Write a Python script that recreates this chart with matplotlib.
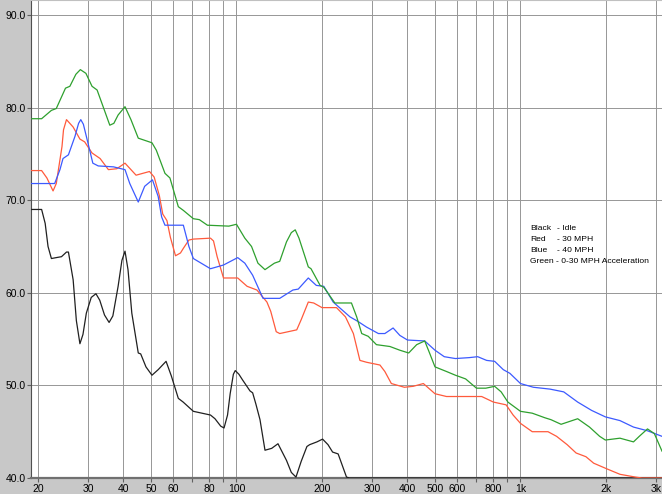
import matplotlib
matplotlib.use("Agg")
import matplotlib.pyplot as plt
from matplotlib.ticker import FixedLocator, FixedFormatter, NullLocator

# --- data (Hz, dB) ---
idle_f = [18.9, 20.6, 21.2, 21.7, 22.3, 23.2, 24.2, 25.2, 25.6, 26.6, 27.3, 28.1, 28.8,
          29.6, 30.8, 32.0, 33.0, 34.3, 35.6, 36.7, 38.3, 39.5, 40.5, 41.5, 42.8, 45.1,
          46.0, 48.0, 50.4, 53.0, 56.5, 59.0, 62.4, 64.9, 70.5, 81.0, 84.0, 88.0, 90.4,
          93.0, 95.0, 97.5, 99.0, 102.0, 105.0, 111.6, 114.0, 117.0, 121.0, 126.0, 133.0,
          140.0, 150.0, 156.0, 162.0, 169.0, 177.0, 181.0, 192.0, 201.0, 210.0, 218.0,
          228.0, 244.0, 250.0, 3150.0]
idle_db = [69.0, 69.0, 67.5, 65.0, 63.7, 63.8, 63.9, 64.4, 64.4, 61.4, 57.0, 54.5, 55.5,
           57.8, 59.5, 59.9, 59.2, 57.6, 56.8, 57.5, 60.7, 63.5, 64.5, 62.5, 57.8, 53.5,
           53.4, 52.0, 51.1, 51.7, 52.6, 51.0, 48.6, 48.2, 47.2, 46.8, 46.4, 45.6, 45.4,
           46.8, 49.1, 51.2, 51.6, 51.2, 50.6, 49.4, 49.2, 48.0, 46.3, 43.0, 43.2,
           43.7, 41.9, 40.6, 40.1, 41.8, 43.4, 43.6, 43.9, 44.2, 43.6, 42.8,
           42.6, 40.1, 40.0, 40.0]

mph30_f = [18.9, 20.6, 21.5, 22.6, 23.2, 24.3, 24.6, 25.2, 26.6, 28.1, 29.2, 31.0,
           33.1, 35.4, 37.9, 40.5, 44.3, 49.4, 51.3, 53.5, 55.0, 56.9, 58.5, 61.0,
           63.5, 65.0, 68.0, 70.5, 81.0, 83.0, 85.5, 90.0, 101.0, 109.0, 118.0, 128.0,
           132.0, 138.0, 142.0, 163.0, 169.0, 179.0, 187.0, 200.0, 225.0, 242.0, 258.0,
           272.0, 287.0, 320.0, 333.0, 351.0, 390.0, 419.0, 455.0, 500.0, 549.0, 730.0,
           803.0, 890.0, 942.0, 1000.0, 1100.0, 1250.0, 1340.0, 1460.0, 1570.0, 1700.0,
           1810.0, 2010.0, 2240.0, 2540.0, 2680.0, 3150.0]
mph30_db = [73.2, 73.2, 72.4, 71.0, 71.8, 75.8, 77.6, 78.7, 77.9, 76.6, 76.3, 75.1,
            74.5, 73.3, 73.4, 74.0, 72.7, 73.1, 72.5, 70.5, 68.5, 67.8, 66.0, 64.0,
            64.3, 64.8, 65.7, 65.8, 65.9, 65.6, 63.9, 61.6, 61.6, 60.7, 60.3, 59.0,
            58.0, 55.8, 55.6, 56.0, 57.1, 59.0, 58.9, 58.4, 58.4, 57.4, 55.6,
            52.7, 52.5, 52.2, 51.5, 50.2, 49.8, 49.9, 50.2, 49.1, 48.8, 48.8,
            48.2, 47.9, 46.8, 45.9, 45.0, 45.0, 44.5, 43.6, 42.7, 42.3,
            41.6, 41.0, 40.4, 40.1, 40.0, 40.0]

mph40_f = [18.9, 22.9, 23.9, 24.5, 25.6, 27.0, 27.8, 28.3, 28.9, 29.6, 31.2, 32.6, 36.9,
           40.5, 42.1, 45.1, 47.5, 50.6, 53.0, 54.5, 56.0, 65.0, 68.0, 70.5, 81.0, 90.0,
           101.0, 107.0, 114.0, 124.0, 142.0, 158.0, 165.0, 179.0, 191.0, 203.0, 219.0,
           251.0, 268.0, 287.0, 316.0, 333.0, 356.0, 376.0, 400.0, 460.0, 500.0, 539.0,
           590.0, 660.0, 707.0, 760.0, 811.0, 870.0, 918.0, 1000.0, 1110.0, 1270.0,
           1420.0, 1590.0, 1780.0, 1990.0, 2240.0, 2500.0, 2800.0, 3150.0]
mph40_db = [71.8, 71.8, 73.3, 74.5, 74.9, 76.9, 78.3, 78.7, 78.2, 76.9, 74.0, 73.7, 73.6,
            73.3, 71.8, 69.8, 71.5, 72.2, 70.4, 68.2, 67.3, 67.3, 65.0, 63.7, 62.6, 63.0,
            63.8, 63.2, 61.9, 59.4, 59.4, 60.3, 60.4, 61.6, 60.8, 60.7, 59.0,
            57.4, 56.9, 56.3, 55.6, 55.6, 56.2, 55.4, 54.9, 54.8, 53.8, 53.1,
            52.9, 53.0, 53.1, 52.7, 52.6, 51.7, 51.3, 50.2, 49.8, 49.6,
            49.3, 48.2, 47.3, 46.6, 46.2, 45.5, 45.1, 44.5]

accel_f = [18.9, 20.6, 22.3, 23.2, 25.0, 25.9, 27.2, 28.2, 29.5, 31.0, 32.3, 34.1, 35.8,
           37.0, 38.3, 40.5, 42.5, 45.1, 50.4, 52.2, 56.0, 58.3, 62.4, 65.0, 70.5, 74.0,
           79.0, 94.0, 100.0, 107.0, 113.0, 119.0, 126.0, 136.0, 142.0, 150.0, 156.0,
           161.0, 166.0, 179.0, 183.0, 197.0, 203.0, 222.0, 254.0, 265.0, 276.0, 291.0,
           311.0, 347.0, 376.0, 404.0, 431.0, 460.0, 477.0, 500.0, 549.0, 590.0, 641.0,
           700.0, 755.0, 811.0, 855.0, 903.0, 1000.0, 1100.0, 1220.0, 1280.0, 1390.0,
           1590.0, 1750.0, 1900.0, 1990.0, 2240.0, 2500.0, 2620.0, 2800.0, 2960.0, 3150.0]
accel_db = [78.8, 78.8, 79.7, 79.9, 82.1, 82.3, 83.6, 84.1, 83.7, 82.3, 81.9, 79.9, 78.1,
            78.3, 79.2, 80.1, 78.7, 76.7, 76.2, 75.4, 72.9, 72.4, 69.3, 68.9, 68.0, 67.9,
            67.3, 67.2, 67.4, 65.9, 65.0, 63.2, 62.5, 63.2, 63.4, 65.5, 66.5,
            66.8, 65.9, 62.8, 62.6, 60.8, 60.6, 58.9, 58.9, 57.4, 55.6, 55.3,
            54.4, 54.2, 53.8, 53.5, 54.4, 54.8, 53.6, 52.0, 51.5, 51.1, 50.7,
            49.7, 49.7, 49.9, 49.3, 48.2, 47.2, 47.0, 46.5, 46.3, 45.8,
            46.4, 45.5, 44.5, 44.1, 44.3, 43.9, 44.5, 45.3, 44.8, 42.9]

grid_freqs = [20, 30, 40, 50, 60, 70, 80, 90, 100, 200, 300, 400, 500, 600, 700,
              800, 900, 1000, 2000, 3000]
grid_labels = ["20", "30", "40", "50", "60", "", "80", "", "100", "200", "300", "400",
               "500", "600", "", "800", "", "1k", "2k", "3k"]
db_ticks = [40, 50, 60, 70, 80, 90]
db_labels = ["40.0", "50.0", "60.0", "70.0", "80.0", "90.0"]

legend_names = ["Black", "Red", "Blue"]
legend_desc = ["- Idle", "- 30 MPH", "- 40 MPH"]
legend_last = "Green - 0-30 MPH Acceleration"

W, H = 662, 494
fig = plt.figure(figsize=(W / 100, H / 100), dpi=100)
fig.patch.set_facecolor("#c8c8c8")

# axes: x 31..662 px, y 0..478 px
ax = fig.add_axes([31 / W, 16 / H, 631 / W, 478 / H])
ax.set_facecolor("white")
ax.set_xscale("log")
ax.set_xlim(18.9, 3150)
ax.set_ylim(40, 40 + 478 / 9.26)

ax.xaxis.set_major_locator(FixedLocator(grid_freqs))
ax.xaxis.set_major_formatter(FixedFormatter(grid_labels))
ax.xaxis.set_minor_locator(NullLocator())
ax.yaxis.set_major_locator(FixedLocator(db_ticks))
ax.yaxis.set_major_formatter(FixedFormatter(db_labels))
ax.yaxis.set_minor_locator(NullLocator())

ax.grid(True, color="#969696", lw=0.7, zorder=0)
ax.tick_params(axis="both", direction="out", length=3, width=0.8, color="#606060",
               labelsize=7.5, pad=1)
for lab in ax.get_xticklabels() + ax.get_yticklabels():
    lab.set_family(["Liberation Sans", "DejaVu Sans"])

ax.spines["right"].set_visible(False)
ax.spines["top"].set_color("#c0c0c0")
ax.spines["left"].set_color("#505050")
ax.spines["bottom"].set_color("#707070")
ax.spines["bottom"].set_linewidth(1.6)

ax.plot(idle_f, idle_db, color="#202020", lw=0.9, zorder=3)
ax.plot(mph30_f, mph30_db, color="#ff5a3c", lw=0.9, zorder=3)
ax.plot(mph40_f, mph40_db, color="#3c5aff", lw=0.9, zorder=3)
ax.plot(accel_f, accel_db, color="#2ea02e", lw=0.9, zorder=3)

# legend text block
rows_y = [228, 239.5, 250.5, 261.5]
for name, desc, yy in zip(legend_names, legend_desc, rows_y):
    fig.text(530 / W, 1 - yy / H, name, fontsize=6.1, va="center",
             family=["Liberation Sans", "DejaVu Sans"])
    fig.text(557 / W, 1 - yy / H, desc, fontsize=6.1, va="center",
             family=["Liberation Sans", "DejaVu Sans"])
fig.text(530 / W, 1 - rows_y[3] / H, legend_last, fontsize=6.1, va="center",
         family=["Liberation Sans", "DejaVu Sans"])

fig.savefig("out.png", dpi=100, facecolor=fig.get_facecolor())
